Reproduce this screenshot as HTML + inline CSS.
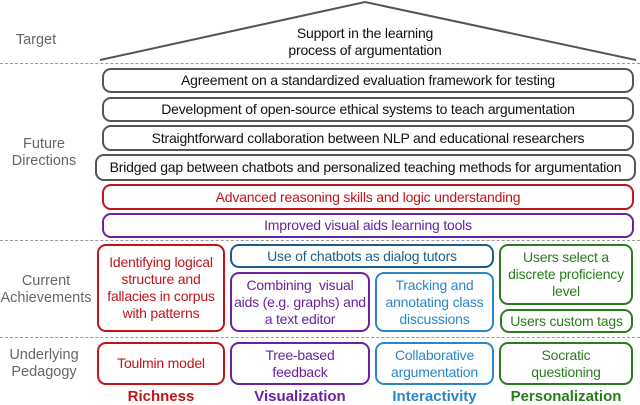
<!DOCTYPE html>
<html><head><style>
body{margin:0;width:640px;height:403px;background:#fff;font-family:"Liberation Sans",sans-serif;position:relative;overflow:hidden}
.b{position:absolute;box-sizing:border-box;border:2px solid #555;border-radius:9px;display:flex;align-items:center;justify-content:center;text-align:center;font-size:14px;line-height:17px;color:#111;letter-spacing:-0.2px;white-space:nowrap}
.l{position:absolute;color:#666;font-size:14.5px;text-align:center;line-height:17px}
.d{position:absolute;left:0;width:640px;border-top:1.5px dashed #999}
.r{border-color:#c0141b;color:#c0141b}.p{border-color:#6a22a3;color:#6a22a3}.db{border-color:#1d5d8e;color:#1d5d8e}.lb{border-color:#2a86c8;color:#2a86c8}.g{border-color:#2a7d1c;color:#2a7d1c}
.f{position:absolute;top:388px;font-weight:bold;font-size:15px;text-align:center;white-space:nowrap}
</style></head><body>
<svg style="position:absolute;left:0;top:0" width="640" height="70"><polyline points="100,60 365,2 636,60" fill="none" stroke="#555" stroke-width="2"/></svg>
<div class="b" style="border:none;left:250px;top:24px;width:230px;height:36px">Support in the learning<br>process of argumentation</div>
<div class="l" style="left:0;top:32px;width:72px">Target</div>
<div class="d" style="top:63px"></div>
<div class="b" style="left:102px;top:68px;width:532px;height:25px">Agreement on a standardized evaluation framework for testing</div>
<div class="b" style="left:102px;top:97px;width:532px;height:25px">Development of open-source ethical systems to teach argumentation</div>
<div class="b" style="left:102px;top:125px;width:532px;height:26px">Straightforward collaboration between NLP and educational researchers</div>
<div class="b" style="left:95px;top:154px;width:541px;height:27px">Bridged gap between chatbots and personalized teaching methods for argumentation</div>
<div class="b r" style="left:102px;top:184px;width:532px;height:26px">Advanced reasoning skills and logic understanding</div>
<div class="b p" style="left:102px;top:213px;width:532px;height:25px">Improved visual aids learning tools</div>
<div class="l" style="left:0;top:136px;width:88px">Future<br>Directions</div>
<div class="d" style="top:240px"></div>
<div class="l" style="left:0;top:273px;width:92px">Current<br>Achievements</div>
<div class="b r" style="left:97px;top:244px;width:128px;height:88px">Identifying logical<br>structure and<br>fallacies in corpus<br>with patterns</div>
<div class="b db" style="left:230px;top:244px;width:264px;height:24px">Use of chatbots as dialog tutors</div>
<div class="b p" style="left:230px;top:272px;width:140px;height:60px">Combining&nbsp; visual<br>aids (e.g. graphs) and<br>a text editor</div>
<div class="b lb" style="left:375px;top:272px;width:119px;height:60px">Tracking and<br>annotating class<br>discussions</div>
<div class="b g" style="left:499px;top:244px;width:134px;height:61px">Users select a<br>discrete proficiency<br>level</div>
<div class="b g" style="left:500px;top:309px;width:133px;height:24px">Users custom tags</div>
<div class="d" style="top:337px"></div>
<div class="l" style="left:0;top:347px;width:88px">Underlying<br>Pedagogy</div>
<div class="b r" style="left:97px;top:342px;width:128px;height:43px">Toulmin model</div>
<div class="b p" style="left:230px;top:342px;width:140px;height:43px">Tree-based<br>feedback</div>
<div class="b lb" style="left:375px;top:342px;width:119px;height:43px">Collaborative<br>argumentation</div>
<div class="b g" style="left:499px;top:342px;width:134px;height:43px">Socratic<br>questioning</div>
<div class="f" style="left:97px;width:128px;color:#c0141b">Richness</div>
<div class="f" style="left:230px;width:140px;color:#6a22a3">Visualization</div>
<div class="f" style="left:375px;width:119px;color:#2a86c8">Interactivity</div>
<div class="f" style="left:499px;width:134px;color:#2a7d1c">Personalization</div>
</body></html>
